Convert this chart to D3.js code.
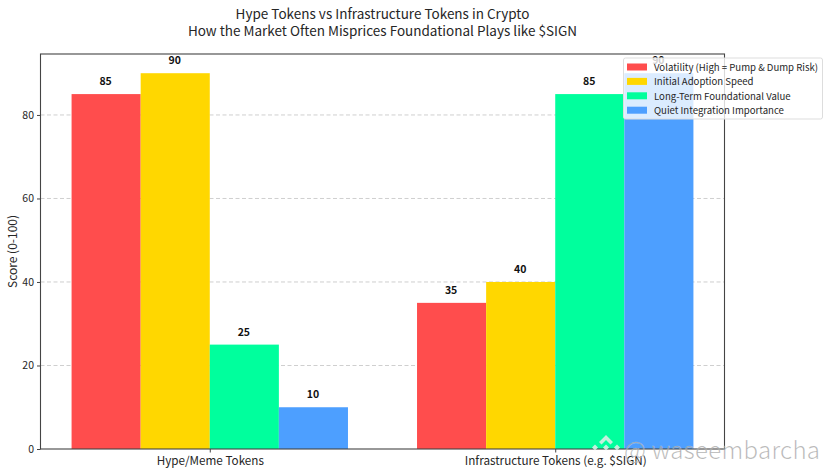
<!DOCTYPE html>
<html>
  <head>
    <meta charset="utf-8">
    <script src="https://d3js.org/d3.v7.min.js" type="text/JavaScript"></script>
    <style>
      html, body { margin: 0; padding: 0; background: #fff; }
      svg { display: block; font-family: "Noto Sans CJK SC", "Noto Sans", sans-serif; }
    </style>
  </head>
  <body>
    <svg></svg>
    <script>
// values
var categories = ['Hype/Meme Tokens', 'Infrastructure Tokens (e.g. $SIGN)'];
var seriesNames = [
  'Volatility (High = Pump & Dump Risk)',
  'Initial Adoption Speed',
  'Long-Term Foundational Value',
  'Quiet Integration Importance'
];
var seriesColors = ['#ff4d4d', '#ffd700', '#00ff9d', '#4d9fff'];
var volatility = [85, 35];
var adoption = [90, 40];
var foundational = [25, 85];
var integration = [10, 90];
var yTicks = [0, 20, 40, 60, 80];
var titleLines = [
  'Hype Tokens vs Infrastructure Tokens in Crypto',
  'How the Market Often Misprices Foundational Plays like $SIGN'
];
var yLabel = 'Score (0-100)';
var watermark = '@ waseembarcha';

var seriesValues = [volatility, adoption, foundational, integration];

var width = 829, height = 476;
var plotLeft = 40.5, plotRight = 724.5, plotTop = 54, plotBottom = 449;

var svg = d3.select('svg').attr('width', width).attr('height', height);

var xScale = d3.scalePoint().domain(categories).range([plotLeft, plotRight]).padding(0.49);
var barScale = d3.scaleBand().domain(seriesNames).range([-138.2, 138.2]);
var yScale = d3.scaleLinear().domain([0, 94.6]).range([plotBottom, plotTop]);

// gridlines
svg.append('g')
  .selectAll('line')
  .data(yTicks.filter(d => d > 0))
  .enter()
  .append('line')
    .attr('x1', plotLeft)
    .attr('x2', plotRight)
    .attr('y1', d => yScale(d))
    .attr('y2', d => yScale(d))
    .style('stroke', '#cfcfcf')
    .style('stroke-width', '1px')
    .style('stroke-dasharray', '4,2.5');

// bars
var groups = svg.append('g')
  .selectAll('g')
  .data(seriesNames)
  .enter()
  .append('g')
    .style('fill', (d, i) => seriesColors[i]);

groups.selectAll('rect')
  .data((d, i) => categories.map((c, j) => ({cat: c, name: d, value: seriesValues[i][j]})))
  .enter()
  .append('rect')
    .attr('x', d => xScale(d.cat) + barScale(d.name))
    .attr('y', d => yScale(d.value))
    .attr('width', barScale.bandwidth())
    .attr('height', d => yScale(0) - yScale(d.value));

groups.selectAll('text')
  .data((d, i) => categories.map((c, j) => ({cat: c, name: d, value: seriesValues[i][j]})))
  .enter()
  .append('text')
    .attr('x', d => xScale(d.cat) + barScale(d.name) + barScale.bandwidth() / 2 - 0.5)
    .attr('y', d => yScale(d.value) - 9)
    .attr('text-anchor', 'middle')
    .style('fill', '#111')
    .style('font-size', '10.5px')
    .style('font-weight', 700)
    .text(d => d.value);

// axes
var xAxis = d3.axisBottom(xScale).tickSize(3.5).tickPadding(4.5);
var yAxis = d3.axisLeft(yScale).tickValues(yTicks).tickSize(3.5).tickPadding(3);

var gx = svg.append('g').attr('transform', `translate(0,${plotBottom})`).call(xAxis);
var gy = svg.append('g').attr('transform', `translate(${plotLeft},0)`).call(yAxis);
gx.select('.domain').remove();
gy.select('.domain').remove();
gx.attr('font-family', null);
gy.attr('font-family', null);
gx.selectAll('text').style('font-size', '11.7px').style('fill', '#262626');
gy.selectAll('text').style('font-size', '10.5px').style('fill', '#262626');
svg.selectAll('.tick line').style('stroke', '#444');

svg.append('rect')
  .attr('x', plotLeft)
  .attr('y', plotTop)
  .attr('width', plotRight - plotLeft)
  .attr('height', plotBottom - plotTop)
  .style('fill', 'none')
  .style('stroke', '#444')
  .style('stroke-width', '1.1px');

// titles
svg.selectAll('.title')
  .data(titleLines)
  .enter()
  .append('text')
    .attr('class', 'title')
    .attr('x', 382.5)
    .attr('y', (d, i) => 19 + i * 17)
    .attr('text-anchor', 'middle')
    .style('font-size', '13.5px')
    .style('fill', '#262626')
    .text(d => d);

svg.append('text')
  .attr('transform', `translate(17,${(plotTop + plotBottom) / 2}) rotate(-90)`)
  .attr('text-anchor', 'middle')
  .style('font-size', '12px')
  .style('fill', '#262626')
  .text(yLabel);

// legend
var legend = svg.append('g').attr('transform', 'translate(623.5,58)');
legend.append('rect')
  .attr('width', 199)
  .attr('height', 61)
  .attr('rx', 2)
  .style('fill', 'rgba(255,255,255,0.8)')
  .style('stroke', '#ddd');

var legendRow = legend.selectAll('.row')
  .data(seriesNames)
  .enter()
  .append('g')
    .attr('class', 'row')
    .attr('transform', (d, i) => `translate(0,${9 + i * 14.4})`);

legendRow.append('rect')
  .attr('x', 3.5)
  .attr('y', -3.5)
  .attr('width', 20)
  .attr('height', 7)
  .style('fill', (d, i) => seriesColors[i]);

legendRow.append('text')
  .attr('x', 30.5)
  .attr('y', 3.7)
  .style('font-size', '9.6px')
  .style('fill', '#262626')
  .text(d => d);

// watermark logo, a chevron over three small diamonds
var mark = svg.append('g').attr('transform', 'translate(606,446)').style('fill', 'rgba(215,240,230,0.9)');
mark.append('path').attr('d', 'M0,-11L7,-4L4.5,-1.5L0,-6L-4.5,-1.5L-7,-4Z');
[[-11, 1.5], [11, 1.5], [0, 1.5]].forEach(d => {
  mark.append('path')
    .attr('d', d3.line()([[d[0], d[1] - 3], [d[0] + 3, d[1]], [d[0], d[1] + 3], [d[0] - 3, d[1]]]) + 'Z');
});

svg.append('text')
  .attr('x', 624)
  .attr('y', 458.5)
  .attr('textLength', 196)
  .style('font-size', '24px')
  .style('font-weight', 300)
  .style('fill', 'rgba(150,150,150,0.72)')
  .style('stroke', 'rgba(255,255,255,0.35)')
  .style('stroke-width', '0.5px')
  .text(watermark);
    </script>
  </body>
</html>
